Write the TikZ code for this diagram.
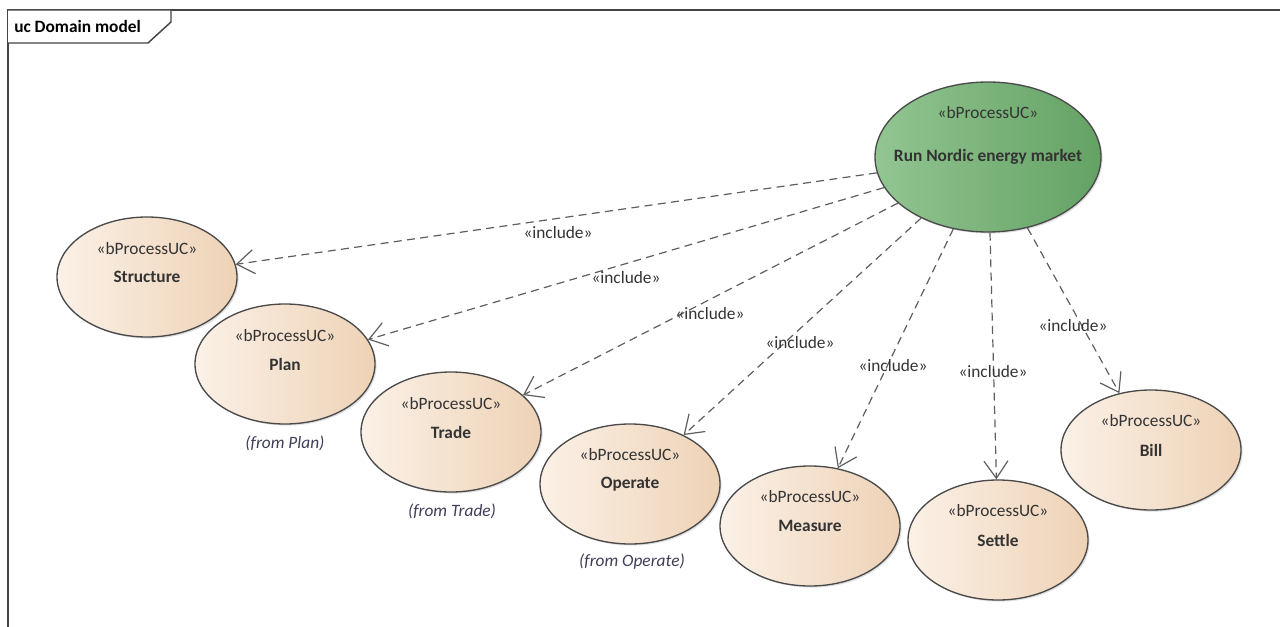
\documentclass[tikz,border=0pt]{standalone}
\usepackage{fontspec}
\setmainfont{Carlito}
\usetikzlibrary{shapes.geometric,arrows.meta,shadows}

\definecolor{ucline}{HTML}{4A4A4A}
\definecolor{uctext}{HTML}{333333}
\definecolor{peachL}{RGB}{251,241,231}
\definecolor{peachR}{RGB}{238,210,182}
\definecolor{greenL}{RGB}{146,197,146}
\definecolor{greenR}{RGB}{100,162,100}
\definecolor{fromtext}{HTML}{3E3E58}
\definecolor{frameline}{HTML}{444444}
\definecolor{inclline}{HTML}{5E5E5E}

\begin{document}
\begin{tikzpicture}[x=0.75pt, y=-0.75pt,
    font=\fontsize{13}{15}\selectfont,
    uc/.style={ellipse, draw=ucline, line width=1pt, inner sep=0pt,
        minimum width=135pt, minimum height=90pt,
        left color=peachL, right color=peachR, text=uctext,
        font=\fontsize{13}{15}\selectfont\bfseries,
        drop shadow={shadow xshift=1.2pt, shadow yshift=-1.2pt, opacity=0.25, fill=gray}},
    stereo/.style={text=uctext, inner sep=0pt},
    fromlbl/.style={text=fromtext, font=\fontsize{13}{15}\selectfont\itshape, inner sep=0pt},
    incl/.style={text=uctext, inner sep=0pt},
    include/.style={draw=inclline, line width=0.9pt, dash pattern=on 6pt off 4pt,
        -{Straight Barb[length=13pt, width=18pt]}}]

    \useasboundingbox (0,0) rectangle (1280,627);
    \clip (0,0) rectangle (1280,627);

    % frame
    \draw[frameline, line width=1.1pt] (8,10) rectangle (1300,650);
    \draw[frameline, line width=1.1pt, fill=white] (8,10) -- (171,10) -- (171,22) -- (148,43) -- (8,43);
    \node[anchor=west, inner sep=0pt, text=black, font=\fontsize{13}{15}\selectfont\bfseries] (title) at (14,26) {uc Domain model};

    % use cases
    \node[uc, minimum width=169.5pt, minimum height=112.5pt, left color=greenL, right color=greenR] (run) at (988,157) {\makebox[0pt]{Run Nordic energy market}};
    \node[stereo] (run-st) at (988,113) {«bProcessUC»};

    \node[uc] (structure) at (147,277) {Structure};
    \node[stereo] (structure-st) at (147,249) {«bProcessUC»};

    \node[uc] (plan) at (285,364) {Plan};
    \node[stereo] (plan-st) at (285,336) {«bProcessUC»};
    \node[fromlbl] (plan-from) at (285,443) {(from Plan)};

    \node[uc] (trade) at (451,432) {Trade};
    \node[stereo] (trade-st) at (451,404) {«bProcessUC»};
    \node[fromlbl] (trade-from) at (452,511) {(from Trade)};

    \node[uc] (operate) at (630,484) {Operate};
    \node[stereo] (operate-st) at (630,455) {«bProcessUC»};
    \node[fromlbl] (operate-from) at (632,562) {(from Operate)};

    \node[uc] (measure) at (810,526) {Measure};
    \node[stereo] (measure-st) at (810,497) {«bProcessUC»};

    \node[uc] (settle) at (998,540) {Settle};
    \node[stereo] (settle-st) at (998,511) {«bProcessUC»};

    \node[uc] (bill) at (1151,450) {Bill};
    \node[stereo] (bill-st) at (1151,421) {«bProcessUC»};

    % include relations
    \draw[include] (run) -- (structure);
    \draw[include] (run) -- (plan);
    \draw[include] (run) -- (trade);
    \draw[include] (run) -- (operate);
    \draw[include] (run) -- (measure);
    \draw[include] (run) -- (settle);
    \draw[include] (run) -- (bill);

    \node[incl] (inc-structure) at (558,233) {«include»};
    \node[incl] (inc-plan) at (626,278) {«include»};
    \node[incl] (inc-trade) at (710,314) {«include»};
    \node[incl] (inc-operate) at (800,343) {«include»};
    \node[incl] (inc-measure) at (893,366) {«include»};
    \node[incl] (inc-settle) at (993,372) {«include»};
    \node[incl] (inc-bill) at (1073,326) {«include»};
\end{tikzpicture}
\end{document}
